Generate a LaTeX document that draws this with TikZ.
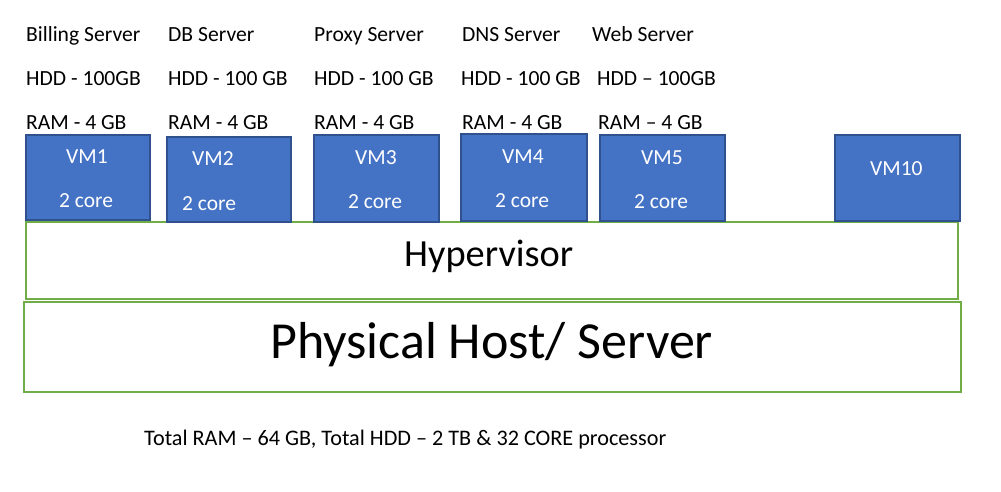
\documentclass[tikz,border=0pt]{standalone}
\usepackage{fontspec}
\setmainfont{Carlito}
\definecolor{vmblue}{HTML}{4472C4}
\definecolor{vmborder}{HTML}{2F528F}
\definecolor{layergreen}{HTML}{70AD47}
\tikzset{
  vmbox/.style={draw=vmborder, fill=vmblue, line width=1.5pt, inner sep=0pt, anchor=north west},
  layer/.style={draw=layergreen, fill=white, line width=1.8pt, inner sep=0pt, anchor=north west},
  lbl/.style={anchor=base west, inner sep=0pt, font=\fontsize{21.6}{26}\selectfont},
  vmtxt/.style={anchor=base west, inner sep=0pt, text=white, font=\fontsize{21.5}{26}\selectfont},
}
\begin{document}
\begin{tikzpicture}[x=1pt,y=-1pt]
\useasboundingbox (0,0) rectangle (1001,491);
% layers
\node[layer, minimum width=932pt, minimum height=77pt] (hyp) at (25,221) {};
\node[layer, minimum width=937pt, minimum height=90pt] (phys) at (23,301) {};
\node[anchor=base west, inner sep=0pt, font=\fontsize{38.4}{44}\selectfont] (hyptxt) at (404,266) {Hypervisor};
\node[anchor=base west, inner sep=0pt, font=\fontsize{52}{60}\selectfont] (phystxt) at (270,358) {Physical Host/ Server};
% VMs
\node[vmbox, minimum width=124pt, minimum height=85pt] (vm1) at (25,134) {};
\node[vmbox, minimum width=124pt, minimum height=85pt] (vm2) at (166,136) {};
\node[vmbox, minimum width=125pt, minimum height=87pt] (vm3) at (313,134) {};
\node[vmbox, minimum width=126pt, minimum height=87pt] (vm4) at (460,133) {};
\node[vmbox, minimum width=125pt, minimum height=86pt] (vm5) at (599,134) {};
\node[vmbox, minimum width=125pt, minimum height=86pt] (vm10) at (834,134) {};
% VM texts
\node[vmtxt] (t1a) at (66,163) {VM1};
\node[vmtxt] (t1b) at (59,207) {2 core};
\node[vmtxt] (t2a) at (192,165) {VM2};
\node[vmtxt] (t2b) at (182,210) {2 core};
\node[vmtxt] (t3a) at (355,164) {VM3};
\node[vmtxt] (t3b) at (348,208) {2 core};
\node[vmtxt] (t4a) at (502,163) {VM4};
\node[vmtxt] (t4b) at (495,207) {2 core};
\node[vmtxt] (t5a) at (641,164) {VM5};
\node[vmtxt] (t5b) at (634,208) {2 core};
\node[vmtxt] (t10a) at (870,175) {VM10};
% labels
\node[lbl] (n1) at (26,41) {Billing Server};
\node[lbl] (n2) at (168,41) {DB Server};
\node[lbl] (n3) at (314,41) {Proxy Server};
\node[lbl] (n4) at (462,41) {DNS Server};
\node[lbl] (n5) at (592,41) {Web Server};
\node[lbl] (h1) at (26,85) {HDD - 100GB};
\node[lbl] (h2) at (168,85) {HDD - 100 GB};
\node[lbl] (h3) at (314,85) {HDD - 100 GB};
\node[lbl] (h4) at (461,85) {HDD - 100 GB};
\node[lbl] (h5) at (597,85) {HDD – 100GB};
\node[lbl] (r1) at (26,129) {RAM - 4 GB};
\node[lbl] (r2) at (168,129) {RAM - 4 GB};
\node[lbl] (r3) at (314,129) {RAM - 4 GB};
\node[lbl] (r4) at (462,129) {RAM - 4 GB};
\node[lbl] (r5) at (598,129) {RAM – 4 GB};
% total
\node[anchor=base west, inner sep=0pt, font=\fontsize{22.2}{26}\selectfont] (total) at (144,445) {Total RAM – 64 GB, Total HDD – 2 TB \& 32 CORE processor};
\end{tikzpicture}
\end{document}
